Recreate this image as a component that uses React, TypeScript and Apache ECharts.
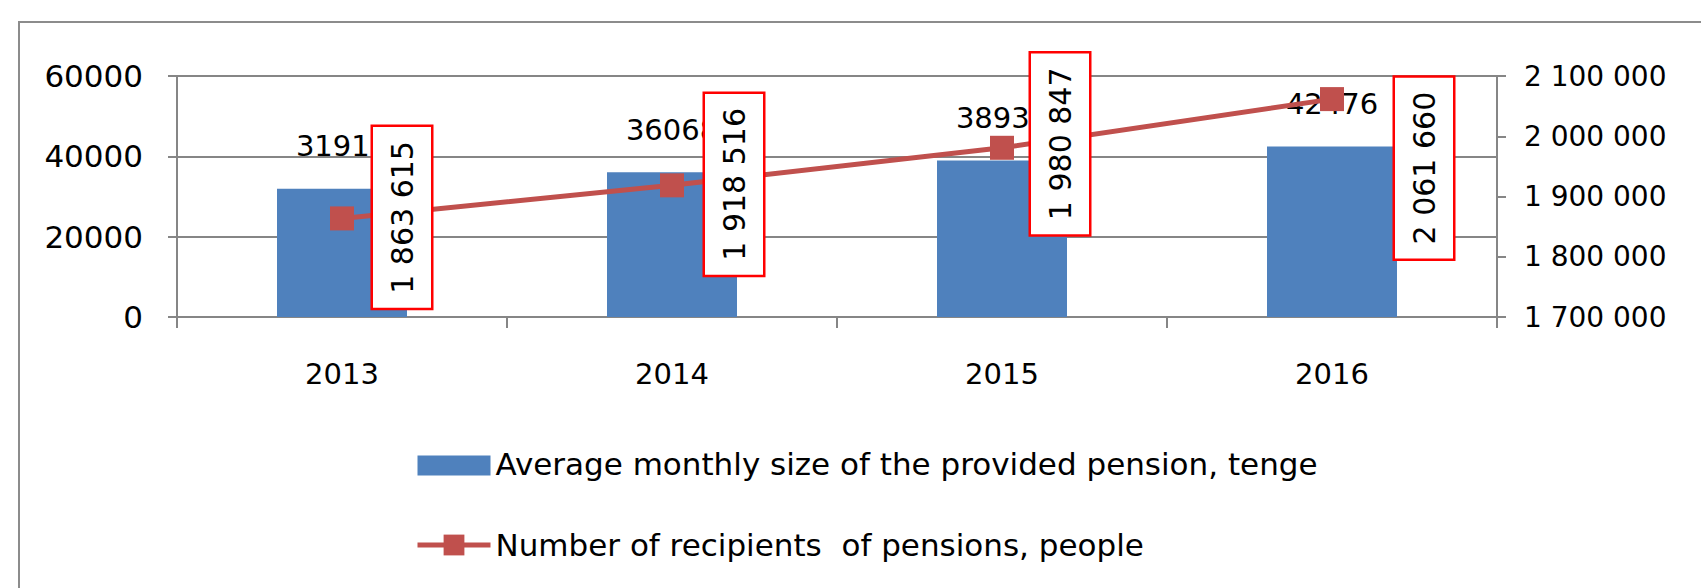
import React, { useEffect, useRef } from "react";
import * as echarts from "echarts";

const categories = ["2013", "2014", "2015", "2016"];
const avgPension = [31917, 36068, 38935, 42476];
const recipients = [1863615, 1918516, 1980847, 2061660];
const barName = "Average monthly size of the provided pension, tenge";
const lineName = "Number of recipients  of pensions, people";
// screen-space shift of each rotated label box from its point: [dx, dy]
const labelShifts = [[60, -1], [62, -1], [58, -4], [92, 69]];

const FONT = "DejaVu Sans";
const GRAY = "#868686";

function fmtSpaces(v: number): string {
  return String(v).replace(/\B(?=(\d{3})+(?!\d))/g, " ");
}

export default function App() {
  const ref = useRef<HTMLDivElement>(null);
  useEffect(() => {
    if (!ref.current) return;
    const chart = echarts.init(ref.current, undefined, { renderer: "svg" });
    chart.setOption({
      animation: false,
      backgroundColor: "#ffffff",
      textStyle: { fontFamily: FONT, color: "#000" },
      graphic: [
        {
          type: "rect",
          shape: { x: 19, y: 22, width: 1800, height: 700 },
          style: { fill: "none", stroke: "#8c8c8c", lineWidth: 2 },
          silent: true,
          z: 0,
        },
      ],
      grid: { left: 177, right: 204, top: 76, bottom: 271 },
      legend: {
        orient: "vertical",
        left: 410,
        top: 443,
        itemWidth: 73,
        itemHeight: 26,
        itemGap: 49,
        textStyle: { fontFamily: FONT, fontSize: 31, color: "#000", lineHeight: 32 },
        data: [
          { name: barName, icon: "path://M0,0h73v0.01h-73z M0,3h73v20h-73z" },
          { name: lineName, lineStyle: { width: 5 } },
        ],
      },
      xAxis: {
        type: "category",
        data: categories,
        axisLine: { lineStyle: { color: GRAY, width: 2 } },
        axisTick: { show: true, length: 11, lineStyle: { color: GRAY, width: 2 } },
        axisLabel: { fontFamily: FONT, fontSize: 29, color: "#000", margin: 42 },
      },
      yAxis: [
        {
          type: "value",
          min: 0,
          max: 60000,
          interval: 20000,
          axisLine: { show: true, lineStyle: { color: GRAY, width: 2 } },
          axisTick: { show: true, length: 9, lineStyle: { color: GRAY, width: 2 } },
          splitLine: { show: true, lineStyle: { color: GRAY, width: 2 } },
          axisLabel: {
            fontFamily: FONT,
            fontSize: 31,
            color: "#000",
            margin: 34,
            formatter: (v: number) => String(v),
          },
        },
        {
          type: "value",
          position: "right",
          min: 1700000,
          max: 2100000,
          interval: 100000,
          axisLine: { show: true, lineStyle: { color: GRAY, width: 2 } },
          axisTick: { show: true, length: 9, lineStyle: { color: GRAY, width: 2 } },
          splitLine: { show: false },
          axisLabel: {
            fontFamily: FONT,
            fontSize: 28,
            color: "#000",
            margin: 27,
            formatter: (v: number) => fmtSpaces(v),
          },
        },
      ],
      series: [
        {
          name: barName,
          type: "bar",
          data: avgPension,
          barWidth: 130,
          itemStyle: { color: "#4F81BD" },
          z: 2,
          label: {
            show: true,
            position: "top",
            distance: 28,
            fontFamily: FONT,
            fontSize: 29,
            color: "#000",
          },
        },
        {
          name: lineName,
          type: "line",
          yAxisIndex: 1,
          z: 5,
          data: recipients.map((v, i) => ({
            value: v,
            // label offset is applied in the rotated frame: [-dy, dx]
            label: { offset: [-labelShifts[i][1], labelShifts[i][0]] },
          })),
          lineStyle: { color: "#C0504D", width: 5 },
          itemStyle: { color: "#C0504D" },
          symbol: "rect",
          symbolSize: 24,
          label: {
            show: true,
            position: "inside",
            rotate: 90,
            align: "center",
            verticalAlign: "middle",
            fontFamily: FONT,
            fontSize: 30,
            lineHeight: 34,
            color: "#000",
            backgroundColor: "#ffffff",
            borderColor: "#ff0000",
            borderWidth: 2.5,
            padding: [12, 14],
            formatter: (p: any) => fmtSpaces(p.value),
          },
        },
      ],
    });
    return () => chart.dispose();
  }, []);
  return (
    <div
      ref={ref}
      style={{ position: "absolute", left: 0, top: 0, width: 1701, height: 588 }}
    />
  );
}
